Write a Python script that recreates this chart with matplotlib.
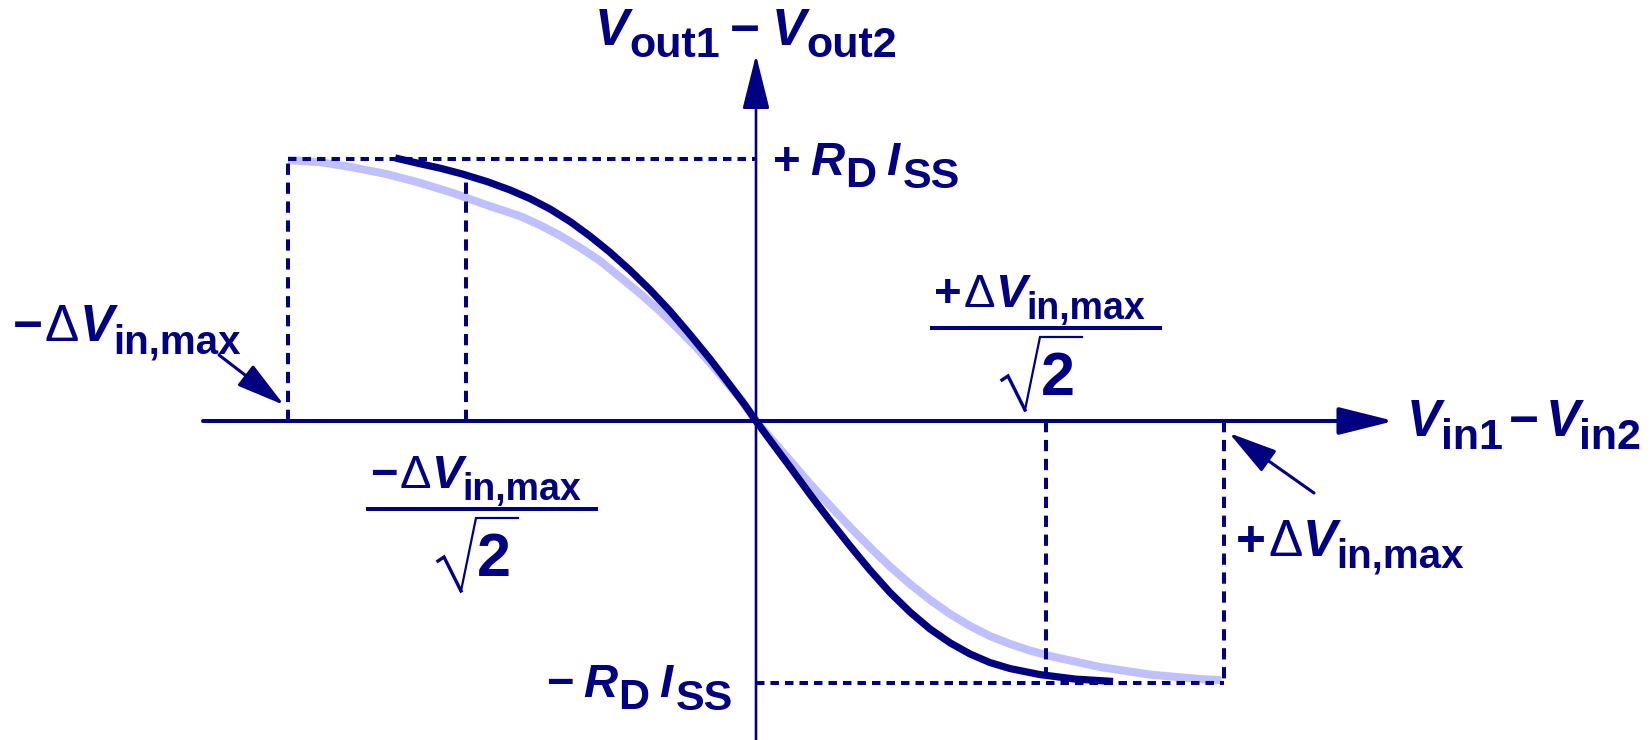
import matplotlib
matplotlib.use("Agg")
import matplotlib.pyplot as plt
import numpy as np
from matplotlib import font_manager
from matplotlib.lines import Line2D
from matplotlib.transforms import Affine2D

W, H = 1651, 740
NAVY = "#000080"
LAVENDER = "#C0C0FF"

# Transfer curves, x in units of dV_in,max, y in units of R_D*I_SS
steep_x = [-0.771, -0.718, -0.675, -0.628, -0.575, -0.526, -0.483, -0.440, -0.397, -0.355,
           -0.312, -0.269, -0.226, -0.184, -0.141, -0.098, -0.056, -0.024, 0.0,
           0.030, 0.073, 0.115, 0.158, 0.201, 0.244, 0.286, 0.329, 0.372, 0.415,
           0.457, 0.500, 0.543, 0.607, 0.682, 0.763]
steep_y = [1.004, 0.982, 0.965, 0.943, 0.914, 0.882, 0.849, 0.809, 0.761, 0.706,
           0.644, 0.575, 0.500, 0.420, 0.330, 0.236, 0.138, 0.062, 0.0,
           -0.073, -0.176, -0.279, -0.380, -0.477, -0.570, -0.654, -0.729, -0.794, -0.847,
           -0.889, -0.922, -0.945, -0.968, -0.985, -0.994]

wide_x = [-1.0, -0.932, -0.861, -0.788, -0.718, -0.647, -0.575, -0.504, -0.462, -0.419,
          -0.376, -0.333, -0.291, -0.248, -0.205, -0.162, -0.120, -0.077, -0.034, 0.0,
          0.030, 0.073, 0.115, 0.158, 0.201, 0.244, 0.286, 0.329, 0.372, 0.415,
          0.457, 0.500, 0.543, 0.585, 0.628, 0.735, 0.842, 0.949, 0.994]
wide_y = [0.996, 0.988, 0.968, 0.942, 0.909, 0.870, 0.824, 0.782, 0.748, 0.708,
          0.662, 0.611, 0.550, 0.487, 0.419, 0.344, 0.266, 0.178, 0.086, 0.0,
          -0.063, -0.151, -0.239, -0.323, -0.405, -0.483, -0.555, -0.622, -0.683, -0.737,
          -0.782, -0.821, -0.851, -0.876, -0.897, -0.939, -0.968, -0.985, -0.989]

dv_max = 1.0      # +/- dV_in,max
dv_root2 = 0.62   # +/- dV_in,max / sqrt(2)
rd_iss = 1.0      # +/- R_D I_SS

names = {f.name for f in font_manager.fontManager.ttflist}
FAMILY = "Liberation Sans" if "Liberation Sans" in names else "DejaVu Sans"

FS, SUB = 37, 31       # stand-alone labels
SUBD = 29              # in,max subscript on stand-alone labels
FS2, SUB2 = 34, 31     # R_D I_SS
FSF, SUBF = 34, 27     # fraction numerators

fig = plt.figure(figsize=(W / 100, H / 100), dpi=100)
ax = fig.add_axes([0, 0, 1, 1])
# origin sits at pixel (756, 421); 468 px per dV_in,max, 262 px per R_D I_SS
ax.set_xlim(-756 / 468, (W - 756) / 468)
ax.set_ylim((421 - H) / 262, 421 / 262)
ax.axis("off")

# pixel coordinates with y running downwards
PIX = Affine2D().scale(1, -1).translate(0, H)

# light curve underneath the guide lines
ax.plot(wide_x, wide_y, color=LAVENDER, lw=5.8, solid_capstyle="butt",
        solid_joinstyle="round", zorder=1)

dash_v = dict(color=NAVY, lw=2.9, ls=(0, (2.8, 1.9)), dash_capstyle="butt", zorder=2)
dash_h = dict(color=NAVY, lw=2.9, ls=(0, (2.1, 1.5)), dash_capstyle="butt", zorder=2)
ax.plot([-dv_max, 0], [rd_iss, rd_iss], **dash_h)
ax.plot([0, dv_max], [-rd_iss, -rd_iss], **dash_h)
ax.plot([-dv_max, -dv_max], [0, rd_iss], **dash_v)
ax.plot([dv_max, dv_max], [0, -rd_iss], **dash_v)
ax.plot([-dv_root2, -dv_root2], [0, np.interp(-dv_root2, steep_x, steep_y)], **dash_v)
ax.plot([dv_root2, dv_root2], [0, np.interp(dv_root2, steep_x, steep_y)], **dash_v)

ax.plot(steep_x, steep_y, color=NAVY, lw=5.2, solid_capstyle="butt",
        solid_joinstyle="round", zorder=3)

# axes with arrow heads
ax.annotate("", xy=(1394, 421), xytext=(203, 421), xycoords=PIX, textcoords=PIX,
            arrowprops=dict(arrowstyle="-|>,head_length=3.4,head_width=0.85", mutation_scale=10,
                            lw=2.9, color=NAVY, shrinkA=0, shrinkB=0), zorder=4)
ax.annotate("", xy=(756, 55), xytext=(756, H), xycoords=PIX, textcoords=PIX,
            arrowprops=dict(arrowstyle="-|>,head_length=3.4,head_width=0.85", mutation_scale=10,
                            lw=1.9, color=NAVY, shrinkA=0, shrinkB=0), zorder=4)

# pointers to the +/- dV_in,max marks
for tail, tip in [((219, 355), (284, 405)), ((1314, 493), (1229, 433))]:
    ax.annotate("", xy=tip, xytext=tail, xycoords=PIX, textcoords=PIX,
                arrowprops=dict(arrowstyle="-|>,head_length=3.0,head_width=0.8", mutation_scale=10,
                                lw=2.2, color=NAVY, shrinkA=0, shrinkB=0))


def draw_label(x, y, runs):
    """Lay out text pieces left to right on a common baseline (pixel coords)."""
    renderer = fig.canvas.get_renderer()
    cursor = x
    for text, size, kind, drop, kern in runs:
        t = fig.text(cursor, y + drop, text, transform=PIX, fontsize=size,
                     fontstyle="italic" if kind == "it" else "normal",
                     fontweight="normal" if kind == "thin" else "bold",
                     family=FAMILY, color=NAVY, va="baseline", ha="left")
        cursor += t.get_window_extent(renderer).width + kern


def delta_runs(sign, fs=FS, sub=SUBD):
    return [(sign, fs, "bf", 0, 2), ("\u0394", fs, "thin", 0, 0),
            ("V", fs, "it", 0, 0), ("in,max", sub, "bf", 12, 0)]


def rdiss_runs(sign):
    return [(sign, FS2, "bf", 0, 10), ("R", FS2, "it", 0, 0), ("D", SUB2, "bf", 12, 10),
            ("I", FS2, "it", 0, 4), ("SS", SUB2, "bf", 13, 0)]


def draw_fraction(x_bar, y_bar, sign):
    draw_label(x_bar + 2, y_bar - 21, delta_runs(sign, FSF, SUBF))
    fig.add_artist(Line2D([x_bar, x_bar + 228], [y_bar, y_bar], transform=PIX,
                          color=NAVY, lw=2.9))
    # radical over the 2
    fig.add_artist(Line2D([x_bar + 70, x_bar + 76, x_bar + 93], [y_bar + 52, y_bar + 48, y_bar + 82],
                          transform=PIX, color=NAVY, lw=2.4, solid_joinstyle="miter"))
    fig.add_artist(Line2D([x_bar + 93, x_bar + 108, x_bar + 150], [y_bar + 82, y_bar + 9, y_bar + 9],
                          transform=PIX, color=NAVY, lw=1.6, solid_joinstyle="miter"))
    draw_label(x_bar + 109, y_bar + 67, [("2", 44, "bf", 0, 0)])


draw_label(595, 45, [("V", FS, "it", 0, 0), ("out1", SUB, "bf", 12, 10), ("\u2212", FS, "bf", 0, 12),
                     ("V", FS, "it", 0, 0), ("out2", SUB, "bf", 12, 0)])
draw_label(1407, 436, [("V", FS, "it", 0, 0), ("in1", SUB, "bf", 13, 6), ("\u2212", FS, "bf", 0, 6),
                       ("V", FS, "it", 0, 0), ("in2", SUB, "bf", 13, 0)])
draw_label(773, 175, rdiss_runs("+"))
draw_label(546, 697, rdiss_runs("\u2212"))
draw_label(13, 341, delta_runs("\u2212"))
draw_label(1236, 556, delta_runs("+"))
draw_fraction(368, 509, "\u2212")
draw_fraction(932, 328, "+")

fig.savefig("out.png", dpi=100, facecolor="white")
